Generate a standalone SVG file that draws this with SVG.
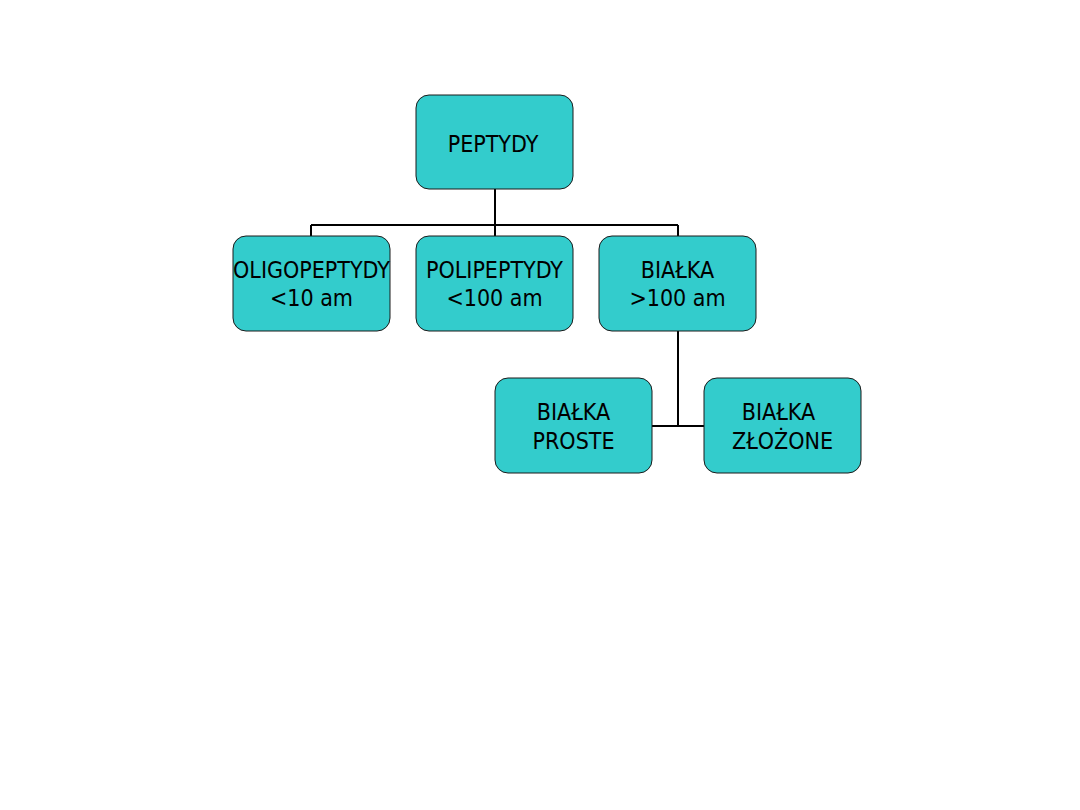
<svg xmlns="http://www.w3.org/2000/svg" width="1080" height="810" viewBox="0 0 1080 810">
<style>
.box{fill:#33cccc;stroke:#1a1a1a;stroke-width:1}
.t{font-family:"DejaVu Sans Condensed","DejaVu Sans",sans-serif;font-stretch:condensed;font-size:23px;fill:#000;text-anchor:middle}
.c{stroke:#000;stroke-width:2;fill:none}
</style>
<rect width="1080" height="810" fill="#fff"/>
<g id="connectors">
<path class="c" d="M495 189V225M311 225H678M311 225V236M495 225V236M678 225V236"/>
<path class="c" d="M678 331V426M652 426H704"/>
</g>
<g id="peptydy"><rect class="box" x="416" y="95" width="157" height="94" rx="13"/><text class="t" x="493" y="152">PEPTYDY</text></g>
<g id="oligopeptydy"><rect class="box" x="233" y="236" width="157" height="95" rx="13"/><text class="t" x="311.5" y="278">OLIGOPEPTYDY</text><text class="t" x="311.5" y="306">&lt;10 am</text></g>
<g id="polipeptydy"><rect class="box" x="416" y="236" width="157" height="95" rx="13"/><text class="t" x="494.5" y="278">POLIPEPTYDY</text><text class="t" x="494.5" y="306">&lt;100 am</text></g>
<g id="bialka"><rect class="box" x="599" y="236" width="157" height="95" rx="13"/><text class="t" x="677.5" y="278">BIAŁKA</text><text class="t" x="677.5" y="306">&gt;100 am</text></g>
<g id="bialka-proste"><rect class="box" x="495" y="378" width="157" height="95" rx="13"/><text class="t" x="573.5" y="420">BIAŁKA</text><text class="t" x="573.5" y="449">PROSTE</text></g>
<g id="bialka-zlozone"><rect class="box" x="704" y="378" width="157" height="95" rx="13"/><text class="t" x="778.5" y="420">BIAŁKA</text><text class="t" x="782.5" y="449">ZŁOŻONE</text></g>
</svg>
